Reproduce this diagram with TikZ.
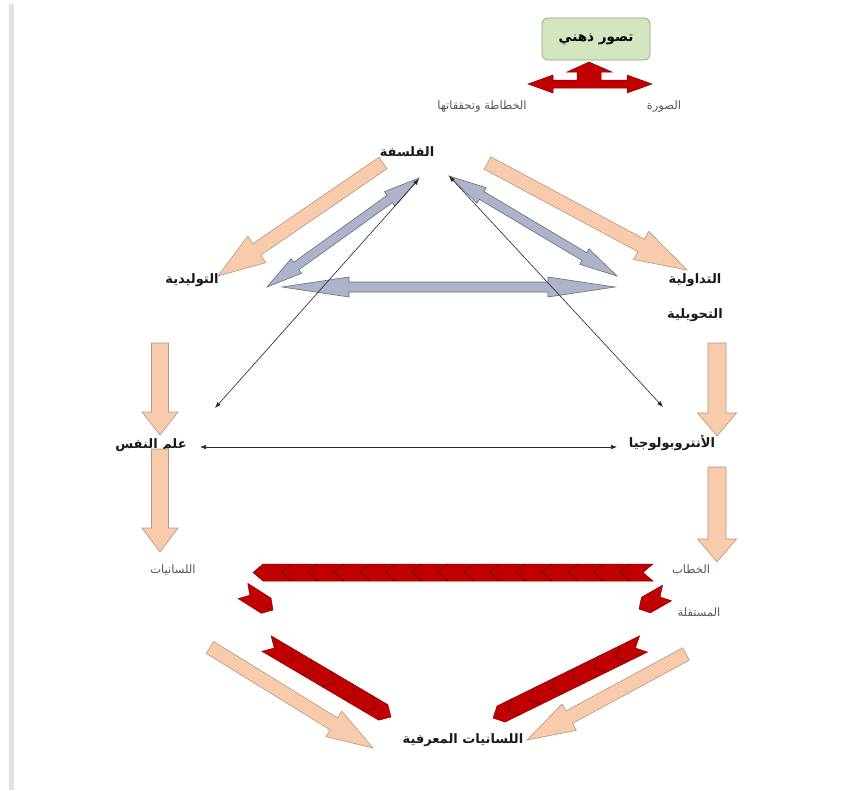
\documentclass[tikz,border=0pt]{standalone}
\usepackage{fontspec}
\usetikzlibrary{calc,arrows.meta}
\TeXXeTstate=1
\newfontfamily\arabicfont[Script=Arabic]{DejaVu Sans}
\definecolor{peach}{HTML}{F8CBAD}
\definecolor{peachline}{HTML}{B8957F}
\definecolor{steel}{HTML}{ADB4CA}
\definecolor{steelline}{HTML}{666C84}
\definecolor{crimson}{HTML}{C00000}
\definecolor{crimsonline}{HTML}{8A0000}
\definecolor{boxgreen}{HTML}{D3E6C0}
\definecolor{boxline}{HTML}{8FA382}
\definecolor{greytext}{HTML}{555555}
\definecolor{sidebar}{HTML}{E2E2EA}
% single block arrow: style, tail, tip, shaft half width, head half width, head length
\newcommand\onearrow[6]{%
  \coordinate (oaH) at ($(#3)!#6!(#2)$);
  \path[#1] ($(#2)!#4!90:(#3)$) -- ($(oaH)!#4!90:(#3)$) -- ($(oaH)!#5!90:(#3)$) -- (#3)
    -- ($(oaH)!#5!-90:(#3)$) -- ($(oaH)!#4!-90:(#3)$) -- ($(#2)!#4!-90:(#3)$) -- cycle;}
% double block arrow
\newcommand\twoarrow[6]{%
  \coordinate (taA) at ($(#2)!#6!(#3)$);
  \coordinate (taB) at ($(#3)!#6!(#2)$);
  \path[#1] (#2) -- ($(taA)!#5!90:(#3)$) -- ($(taA)!#4!90:(#3)$) -- ($(taB)!#4!-90:(#2)$)
    -- ($(taB)!#5!-90:(#2)$) -- (#3) -- ($(taB)!#5!90:(#2)$) -- ($(taB)!#4!90:(#2)$)
    -- ($(taA)!#4!-90:(#3)$) -- ($(taA)!#5!-90:(#3)$) -- cycle;}
% chevron strip: style, tail, tip, half width, point depth
\newcommand\chevstrip[5]{%
  \coordinate (chT) at ($(#2)!#5!(#3)$);
  \coordinate (chP) at ($(#3)!#5!(#2)$);
  \path[#1] ($(#2)!#4!90:(#3)$) -- ($(chP)!#4!90:(#3)$) -- (#3) -- ($(chP)!#4!-90:(#3)$)
    -- ($(#2)!#4!-90:(#3)$) -- (chT) -- cycle;}
% inner chevron lines: style, tail, tip, half width, depth, distances
\newcommand\chevlines[6]{%
  \foreach \q in {#6}{%
    \coordinate (cq) at ($(#2)!\q pt!(#3)$);
    \draw[#1] ($(cq)!#4!90:(#3)$) -- ($(cq)!#5!(#3)$) -- ($(cq)!#4!-90:(#3)$);}}
\tikzset{
  peachfill/.style={fill=peach,draw=peachline,line width=0.6pt,line join=miter},
  steelfill/.style={fill=steel,draw=steelline,line width=0.6pt},
  redfill/.style={fill=crimson,draw=crimsonline,line width=0.5pt},
  redline/.style={draw=crimsonline!70!black,line width=0.6pt},
  thinarrow/.style={draw=black!85,line width=0.6pt,{Latex[length=6pt,width=4.5pt]}-{Latex[length=6pt,width=4.5pt]}},
  boldlabel/.style={font=\arabicfont\bfseries\fontsize{13}{15}\selectfont,text=black!90,inner sep=1pt},
  greylabel/.style={font=\arabicfont\fontsize{11.5}{14}\selectfont,text=greytext,inner sep=1pt},
  greenbox/.style={fill=boxgreen,draw=boxline,line width=0.7pt,rounded corners=6pt,minimum width=108pt,minimum height=42pt,font=\arabicfont\bfseries\fontsize{13.5}{15}\selectfont}
}
\begin{document}
\begin{tikzpicture}[x=1pt,y=-1pt]
\useasboundingbox (0,0) rectangle (846,790);
\fill[white] (0,0) rectangle (846,790);
\fill[sidebar] (9,4) rectangle (14,790);

% top box and red arrow
\node[greenbox] (concept) at (596,39) {\beginR تصور ذهني\endR};
\path[redfill] (528,84) -- (553,75) -- (553,80) -- (577,80) -- (577,72) -- (567,72) -- (589,62)
  -- (612,72) -- (601,72) -- (601,80) -- (627,80) -- (627,75) -- (652,84) -- (627,93)
  -- (627,88) -- (553,88) -- (553,93) -- cycle;

% labels
\node[greylabel] (khatata) at (482,107) {\beginR الخطاطة وتحققاتها\endR};
\node[greylabel] (sura) at (664,107) {\beginR الصورة\endR};
\node[boldlabel] (falsafa) at (407,152) {\beginR الفلسفة\endR};
\node[boldlabel] (tawlid) at (192,280) {\beginR التوليدية\endR};
\node[boldlabel] (tadawul) at (695,280) {\beginR التداولية\endR};
\node[boldlabel] (tahwil) at (695,315) {\beginR التحويلية\endR};
\node[boldlabel] (nafs) at (151,445) {\beginR علم النفس\endR};
\node[boldlabel] (anthro) at (672,443) {\beginR الأنتروبولوجيا\endR};
\node[greylabel] (lisan) at (173,570) {\beginR اللسانيات\endR};
\node[greylabel] (khitab) at (691,570) {\beginR الخطاب\endR};
\node[greylabel] (mustaqil) at (699,612) {\beginR المستقلة\endR};
\node[boldlabel] (maarifi) at (463,740) {\beginR اللسانيات المعرفية\endR};

% coordinates
\coordinate (p1a) at (383,163);   \coordinate (p1b) at (218,276);
\coordinate (p2a) at (487.5,163); \coordinate (p2b) at (687,270);
\coordinate (p3a) at (160,343);   \coordinate (p3b) at (160,435);
\coordinate (p4a) at (160,449);   \coordinate (p4b) at (160,552);
\coordinate (p5a) at (717,343);   \coordinate (p5b) at (717,436);
\coordinate (p6a) at (717,467);   \coordinate (p6b) at (717,562);
\coordinate (p7a) at (210,647.5); \coordinate (p7b) at (373,748);
\coordinate (p8a) at (686,654);   \coordinate (p8b) at (527,740);
\coordinate (g1a) at (267,287);   \coordinate (g1b) at (419,178);
\coordinate (g2a) at (449,176);   \coordinate (g2b) at (617,276);
\coordinate (g3a) at (282,287);   \coordinate (g3b) at (615,287);
\coordinate (t1a) at (419,179);   \coordinate (t1b) at (215,408);
\coordinate (t2a) at (449,176);   \coordinate (t2b) at (663,407);
\coordinate (t3a) at (200,447);   \coordinate (t3b) at (617,447);
\coordinate (r1a) at (653,572.5); \coordinate (r1b) at (253,572.5);
\coordinate (r2a) at (243,591);   \coordinate (r2b) at (273,610);
\coordinate (r3a) at (667,593);   \coordinate (r3b) at (639,609);
\coordinate (r4a) at (266.5,643.5); \coordinate (r4b) at (391,717);
\coordinate (r5a) at (643.5,644); \coordinate (r5b) at (493,718);

% peach arrows
\onearrow{peachfill}{p1a}{p1b}{7pt}{16pt}{47pt}
\onearrow{peachfill}{p2a}{p2b}{7pt}{16pt}{52pt}
\onearrow{peachfill}{p3a}{p3b}{8.5pt}{18pt}{23pt}
\onearrow{peachfill}{p4a}{p4b}{8.5pt}{18pt}{24pt}
\onearrow{peachfill}{p5a}{p5b}{9pt}{19.5pt}{23pt}
\onearrow{peachfill}{p6a}{p6b}{9pt}{19.5pt}{23pt}
\onearrow{peachfill}{p7a}{p7b}{7pt}{15pt}{46pt}
\onearrow{peachfill}{p8a}{p8b}{7pt}{15pt}{48pt}

% steel double arrows
\twoarrow{steelfill}{g1a}{g1b}{4.5pt}{9pt}{36pt}
\twoarrow{steelfill}{g2a}{g2b}{4.5pt}{9pt}{38pt}
\twoarrow{steelfill}{g3a}{g3b}{5pt}{10pt}{67pt}

% thin arrows
\draw[thinarrow] (t1a) -- (t1b);
\draw[thinarrow] (t2a) -- (t2b);
\draw[thinarrow] (t3a) -- (t3b);

% red chevron strips
\chevstrip{redfill}{r1a}{r1b}{8.5pt}{10pt}
\chevlines{redline}{r1a}{r1b}{8.5pt}{10pt}{23,49,75,101,127,153,179,205,231,257,283,309,335,361}
\chevstrip{redfill}{r2a}{r2b}{9pt}{8pt}
\chevstrip{redfill}{r3a}{r3b}{9pt}{8pt}
\chevstrip{redfill}{r4a}{r4b}{9pt}{9pt}
\chevlines{redline}{r4a}{r4b}{9pt}{9pt}{22,46,70,94,118}
\chevstrip{redfill}{r5a}{r5b}{9pt}{9pt}
\chevlines{redline}{r5a}{r5b}{9pt}{9pt}{22,46,70,94,118,142}
\end{tikzpicture}
\end{document}
